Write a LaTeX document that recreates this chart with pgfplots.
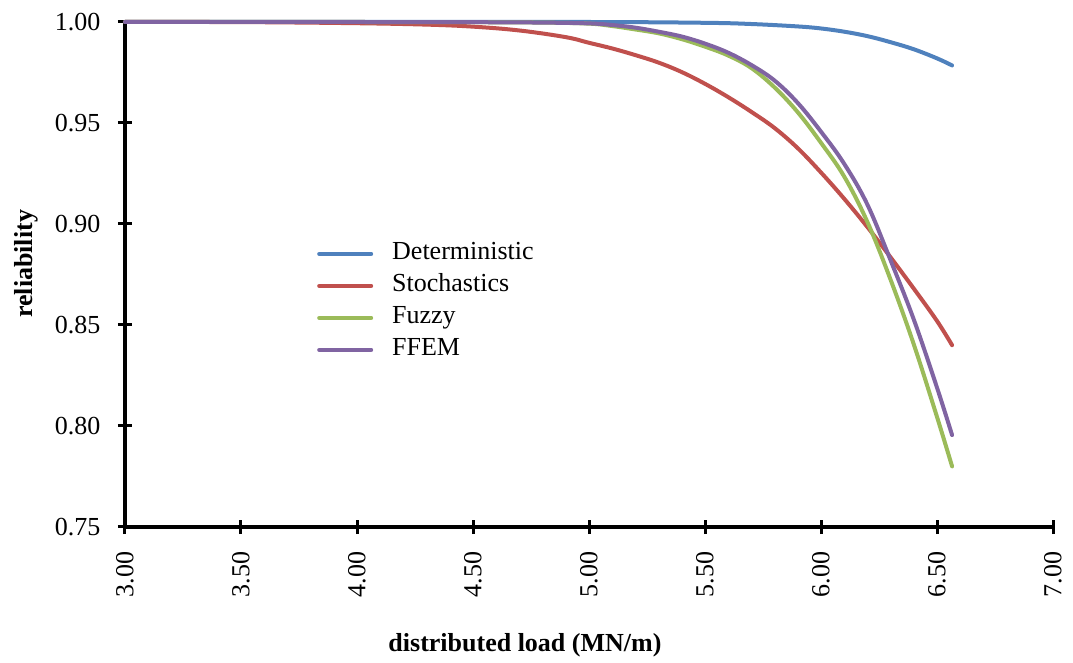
\documentclass[border=0pt]{standalone}
\usepackage{fontspec}
\setmainfont{Liberation Serif}
\usepackage{pgfplots}
\pgfplotsset{compat=1.18}

\definecolor{detblue}{HTML}{4F81BD}
\definecolor{stored}{HTML}{C0504D}
\definecolor{fuzgreen}{HTML}{9BBB59}
\definecolor{ffpurple}{HTML}{8064A2}

\pgfplotsset{curve/.style={line width=4pt, line cap=round, line join=round, smooth, tension=0.6}}

\begin{document}
\begin{tikzpicture}
\begin{axis}[
    name=ax,
    scale only axis, width=928pt, height=505pt,
    xmin=3, xmax=7, ymin=0.75, ymax=1.0,
    clip=false,
    axis x line*=bottom, axis y line*=left,
    axis line style={line width=3.5pt, -},
    xtick={3,3.5,4,4.5,5,5.5,6,6.5,7},
    ytick={0.75,0.8,0.85,0.9,0.95,1.0},
    tick align=center, major tick length=14pt,
    tick style={line width=3pt, black},
    font=\fontsize{26}{31}\selectfont,
    /pgf/number format/fixed,
    /pgf/number format/fixed zerofill,
    /pgf/number format/precision=2,
    /pgf/number format/assume math mode=true,
    % rotated labels: xshift runs vertically here
    xticklabel style={rotate=90, anchor=east, xshift=-14pt},
    yticklabel style={anchor=east, xshift=-14pt},
    xlabel={\textbf{distributed load (MN/m)}},
    xlabel style={at={(rel axis cs:0.431,0)}, anchor=center, yshift=-118pt},
    ylabel={\textbf{reliability}},
    ylabel style={at={(rel axis cs:0,0.521)}, anchor=center, yshift=99pt},
    legend cell align=left,
    legend image code/.code={\draw[#1, line width=4pt] (0pt,0pt) -- (52pt,0pt);},
    legend style={at={(rel axis cs:0.2069,0.565)}, anchor=north west,
        draw=none, fill=none, inner sep=0pt, column sep=19pt, row sep=8pt,
        nodes={inner sep=0pt, text height=18pt, text depth=6pt}},
]
\addplot[detblue, curve] coordinates {
    (3.0,1.0)(4.0,1.0)(5.0,1.0)(5.5,0.9996)(5.7,0.9990)(5.9,0.9978)
    (6.0,0.9968)(6.1,0.9952)(6.2,0.993)(6.3,0.990)(6.4,0.9865)(6.5,0.982)
    (6.565,0.9785)
};
\addlegendentry{Deterministic}
\addplot[stored, curve] coordinates {
    (3.0,1.0)(3.5,0.99995)(4.0,0.9994)(4.3,0.9987)(4.5,0.9977)(4.7,0.9958)
    (4.9,0.9925)(5.0,0.9897)(5.1,0.9869)(5.2,0.9836)(5.3,0.9799)(5.4,0.9752)
    (5.5,0.9694)(5.6,0.9628)(5.7,0.9555)(5.8,0.9475)(5.9,0.9375)(6.0,0.9255)
    (6.1,0.9125)(6.2,0.8985)(6.3,0.8835)(6.4,0.868)(6.5,0.852)(6.565,0.840)
};
\addlegendentry{Stochastics}
\addplot[fuzgreen, curve] coordinates {
    (3.0,1.0)(4.0,1.0)(4.5,0.9999)(4.8,0.9997)(5.0,0.9992)(5.1,0.998)
    (5.2,0.9963)(5.3,0.9944)(5.4,0.9915)(5.5,0.9878)(5.6,0.9834)(5.7,0.9772)
    (5.8,0.9676)(5.9,0.9553)(6.0,0.9402)(6.1,0.9235)(6.2,0.901)(6.3,0.8724)
    (6.4,0.8404)(6.5,0.8045)(6.565,0.780)
};
\addlegendentry{Fuzzy}
\addplot[ffpurple, curve] coordinates {
    (3.0,1.0)(4.0,1.0)(4.5,0.9999)(4.8,0.9997)(5.0,0.9993)(5.1,0.9985)
    (5.2,0.9972)(5.3,0.9952)(5.4,0.9928)(5.5,0.9893)(5.6,0.9848)(5.7,0.9787)
    (5.8,0.971)(5.9,0.9599)(6.0,0.9457)(6.1,0.9298)(6.2,0.9096)(6.3,0.882)
    (6.4,0.8527)(6.5,0.819)(6.565,0.7955)
};
\addlegendentry{FFEM}
\end{axis}
\pgfresetboundingbox
\path ([xshift=-125pt,yshift=-136pt]ax.south west) rectangle ([xshift=20pt,yshift=22pt]ax.north east);
\end{tikzpicture}
\end{document}
